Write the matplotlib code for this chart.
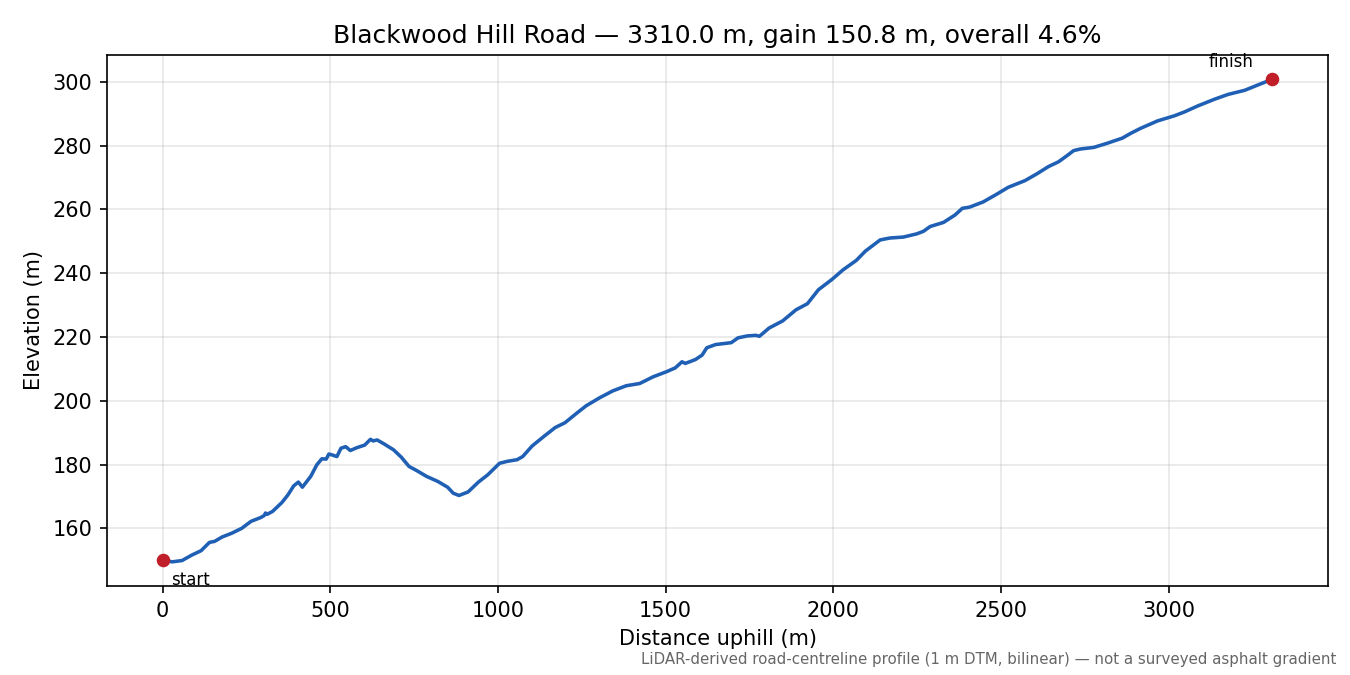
import matplotlib.pyplot as plt

road_name = "Blackwood Hill Road"

distance_m = [0, 29, 58, 87, 115, 140, 155, 178, 207, 236, 264, 293, 303, 307, 312,
              328, 356, 374, 391, 405, 417, 442, 460, 475, 488, 496, 506, 520, 532,
              546, 560, 580, 603, 620, 628, 640, 660, 689, 712, 735, 758, 787, 821,
              850, 867, 884, 911, 942, 970, 1005, 1028, 1057, 1074, 1102, 1137, 1171,
              1200, 1234, 1263, 1303, 1343, 1383, 1423, 1463, 1503, 1529, 1549, 1559,
              1589, 1609, 1623, 1649, 1696, 1716, 1743, 1769, 1780, 1809, 1849, 1889,
              1923, 1956, 1996, 2029, 2069, 2096, 2140, 2169, 2209, 2249, 2269, 2289,
              2329, 2363, 2385, 2407, 2447, 2487, 2522, 2572, 2607, 2642, 2672, 2697,
              2717, 2737, 2777, 2817, 2862, 2887, 2917, 2967, 3017, 3047, 3087, 3137,
              3177, 3227, 3267, 3310]

elevation_m = [150.0, 149.5, 149.9, 151.6, 153.0, 155.6, 155.9, 157.3, 158.5, 160.0,
               162.2, 163.4, 164.0, 164.8, 164.4, 165.3, 168.1, 170.5, 173.3, 174.5,
               172.9, 176.3, 179.9, 181.8, 181.7, 183.3, 183.0, 182.5, 185.1, 185.6,
               184.4, 185.3, 186.1, 187.9, 187.4, 187.7, 186.5, 184.6, 182.3, 179.4,
               178.1, 176.3, 174.7, 172.9, 171.0, 170.3, 171.4, 174.5, 176.8, 180.4,
               181.0, 181.5, 182.5, 185.8, 188.8, 191.6, 193.1, 196.0, 198.4, 200.9,
               203.1, 204.7, 205.4, 207.5, 209.1, 210.3, 212.2, 211.7, 212.9, 214.3,
               216.6, 217.6, 218.2, 219.7, 220.3, 220.5, 220.2, 222.8, 225.0, 228.5,
               230.4, 234.8, 238.0, 241.0, 244.0, 246.9, 250.4, 251.0, 251.3, 252.3,
               253.1, 254.6, 255.9, 258.2, 260.3, 260.7, 262.3, 264.7, 266.9, 269.0,
               271.1, 273.4, 274.9, 276.8, 278.4, 278.9, 279.4, 280.7, 282.3, 283.8,
               285.4, 287.7, 289.3, 290.5, 292.4, 294.5, 296.0, 297.3, 299.0, 300.8]

length = distance_m[-1] - distance_m[0]
gain = elevation_m[-1] - elevation_m[0]
grade = 100 * gain / length

fig, ax = plt.subplots(figsize=(9, 4.5), dpi=150)
fig.subplots_adjust(left=0.0793, right=0.9837, top=0.9185, bottom=0.1319)

ax.plot(distance_m, elevation_m, color='#1f5fb4', linewidth=1.7)
ax.plot([distance_m[0], distance_m[-1]], [elevation_m[0], elevation_m[-1]], 'o',
        color='#c01f2a', markersize=5.5)

ax.annotate("start", (distance_m[0], elevation_m[0]), xytext=(4, -5),
            textcoords='offset points', ha='left', va='top', fontsize=8)
ax.annotate("finish", (distance_m[-1], elevation_m[-1]), xytext=(-9, 4),
            textcoords='offset points', ha='right', va='bottom', fontsize=8)

ax.set_title(f"{road_name} \u2014 {length:.1f} m, gain {gain:.1f} m, overall {grade:.1f}%")
ax.set_xlabel("Distance uphill (m)")
ax.set_ylabel("Elevation (m)")
ax.grid(True, alpha=0.3)

fig.text(0.99, 0.012, "LiDAR-derived road-centreline profile (1 m DTM, bilinear) \u2014 not a surveyed asphalt gradient",
         ha='right', va='bottom', fontsize=7.2, color='0.4')

fig.savefig("out.png", dpi=150)
